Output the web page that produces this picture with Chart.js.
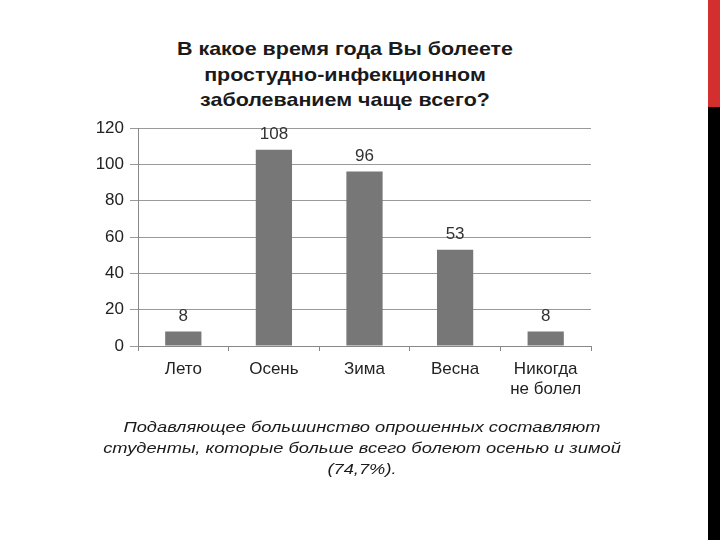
<!DOCTYPE html>
<html>
<head>
<meta charset="utf-8">
<script src="https://cdn.jsdelivr.net/npm/chart.js"></script>
<style>
  body { margin: 0; background: #fff; }
  .wrap { position: relative; width: 720px; height: 540px; overflow: hidden; font-family: Arial, "Liberation Sans", sans-serif; }
  .title { position: absolute; left: 145px; width: 400px; top: 36px; text-align: center; font-weight: bold; font-size: 19px; line-height: 25.5px; color: #1a1a1a; transform: scaleX(1.13); transform-origin: 200px 0; }
  .caption { position: absolute; left: 62px; width: 600px; top: 416px; text-align: center; font-style: italic; font-size: 15.5px; line-height: 21px; color: #1a1a1a; transform: scaleX(1.18); transform-origin: 300px 0; }
  .strip-red { position: absolute; left: 708px; top: 0; width: 12px; height: 107px; background: #d32f2f; }
  .strip-black { position: absolute; left: 708px; top: 107px; width: 12px; height: 433px; background: #000; }
  canvas { position: absolute; left: 0; top: 0; }
</style>
</head>
<body>
<div class="wrap">
  <div class="title">В какое время года Вы болеете<br>простудно-инфекционном<br>заболеванием чаще всего?</div>
  <canvas id="chart" width="720" height="540"></canvas>
  <div class="caption">Подавляющее большинство опрошенных составляют<br>студенты, которые больше всего болеют осенью и зимой<br>(74,7%).</div>
  <div class="strip-red"></div>
  <div class="strip-black"></div>
</div>
<script>
const categories = ['Лето', 'Осень', 'Зима', 'Весна', ['Никогда', 'не болел']];
const values = [8, 108, 96, 53, 8];
const yTicks = [0, 20, 40, 60, 80, 100, 120];

// подписи значений над столбцами
const valueLabels = {
  id: 'valueLabels',
  afterDatasetsDraw(chart) {
    const ctx = chart.ctx;
    const meta = chart.getDatasetMeta(0);
    ctx.save();
    ctx.font = '17px Arial, "Liberation Sans", sans-serif';
    ctx.fillStyle = '#333';
    ctx.textAlign = 'center';
    ctx.textBaseline = 'middle';
    meta.data.forEach((bar, i) => {
      ctx.fillText(values[i], bar.x, bar.y - 15);
    });
    ctx.restore();
  }
};

new Chart(document.getElementById('chart'), {
  type: 'bar',
  data: {
    labels: categories,
    datasets: [{
      data: values,
      backgroundColor: '#777777',
      barPercentage: 0.8,
      categoryPercentage: 0.5
    }]
  },
  options: {
    responsive: false,
    animation: false,
    layout: { padding: { left: 0, right: 129, top: 128, bottom: 134 } },
    plugins: {
      legend: { display: false },
      tooltip: { enabled: false }
    },
    scales: {
      x: {
        afterFit: (scale) => { scale.height = 60; },
        border: { color: '#888', width: 1 },
        grid: { drawOnChartArea: false, tickLength: 5, color: '#888', offset: true },
        ticks: {
          color: '#222',
          padding: 8,
          font: { size: 17, family: 'Arial, "Liberation Sans", sans-serif' },
          maxRotation: 0
        }
      },
      y: {
        min: 0,
        max: 120,
        afterFit: (scale) => { scale.width = 138; },
        afterBuildTicks: (scale) => { scale.ticks = yTicks.map(v => ({ value: v })); },
        border: { color: '#888', width: 1 },
        grid: { color: '#999', tickLength: 8 },
        ticks: {
          color: '#222',
          padding: 6,
          font: { size: 17, family: 'Arial, "Liberation Sans", sans-serif' }
        }
      }
    }
  },
  plugins: [valueLabels]
});
</script>
</body>
</html>
